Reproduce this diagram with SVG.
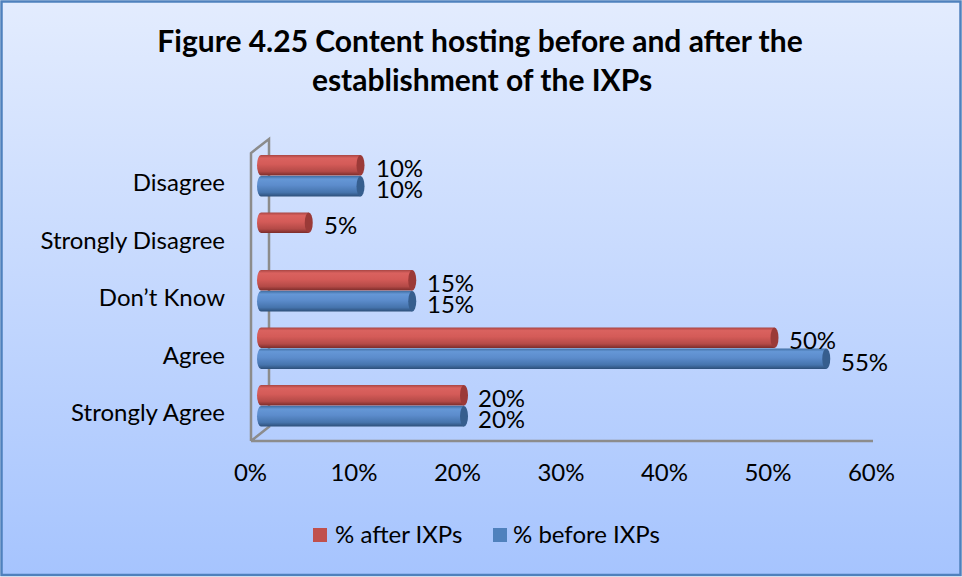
<svg xmlns="http://www.w3.org/2000/svg" width="962" height="577" viewBox="0 0 962 577">
<defs>
<linearGradient id="bg" x1="0" y1="0" x2="0" y2="1">
<stop offset="0" stop-color="#E3ECFE"/>
<stop offset="1" stop-color="#A6C4FE"/>
</linearGradient>
<linearGradient id="gr" x1="0" y1="0" x2="0" y2="1">
<stop offset="0" stop-color="#A94644"/>
<stop offset="0.15" stop-color="#DA625F"/>
<stop offset="0.45" stop-color="#D45B58"/>
<stop offset="0.8" stop-color="#B44A47"/>
<stop offset="1" stop-color="#7B2C2A"/>
</linearGradient>
<linearGradient id="gb" x1="0" y1="0" x2="0" y2="1">
<stop offset="0" stop-color="#416FA3"/>
<stop offset="0.15" stop-color="#6597D6"/>
<stop offset="0.45" stop-color="#5C8CCC"/>
<stop offset="0.8" stop-color="#4674AD"/>
<stop offset="1" stop-color="#2D4F79"/>
</linearGradient>
</defs>
<style>
.t{font-family:Lato,"Liberation Sans",sans-serif;font-size:24px;fill:#000}
.ttl{font-family:Lato,"Liberation Sans",sans-serif;font-size:30px;font-weight:bold;fill:#000}
.ax{stroke:#8C8C8C;stroke-width:2.5;fill:none}
.capr{fill:#9B3A38}
.capb{fill:#365E8E}
</style>
<rect x="1.5" y="1.5" width="959" height="573.5" fill="url(#bg)" stroke="#4F81BD" stroke-width="2.5"/>
<g id="title" text-anchor="middle">
<text class="ttl" x="480" y="52">Figure 4.25 Content hosting before and after the</text>
<text class="ttl" x="482" y="91">establishment of the IXPs</text>
</g>
<g id="axes">
<path class="ax" d="M251,441 V153 L269,139 V426 M251,441 L270,426 M251,441 H873"/>
</g>
<g id="category-labels" text-anchor="end">
<text class="t" x="225" y="191">Disagree</text>
<text class="t" x="225" y="248.5">Strongly Disagree</text>
<text class="t" x="225" y="306">Don’t Know</text>
<text class="t" x="225" y="363.5">Agree</text>
<text class="t" x="225" y="421">Strongly Agree</text>
</g>
<g id="tick-labels" text-anchor="middle">
<text class="t" x="250.5" y="481">0%</text>
<text class="t" x="354" y="481">10%</text>
<text class="t" x="457.5" y="481">20%</text>
<text class="t" x="561" y="481">30%</text>
<text class="t" x="664.5" y="481">40%</text>
<text class="t" x="768" y="481">50%</text>
<text class="t" x="871.5" y="481">60%</text>
</g>
<g id="bars">
<g id="disagree">
<path fill="url(#gr)" d="M261,155 H360.5 V175.5 H261 A4,10.25 0 0 1 261,155 Z"/><ellipse class="capr" cx="360.5" cy="165.25" rx="4" ry="10.25"/>
<path fill="url(#gb)" d="M261,176 H360.5 V196.5 H261 A4,10.25 0 0 1 261,176 Z"/><ellipse class="capb" cx="360.5" cy="186.25" rx="4" ry="10.25"/>
<text class="t" x="376" y="177">10%</text>
<text class="t" x="376" y="198">10%</text>
</g>
<g id="strongly-disagree">
<path fill="url(#gr)" d="M261,212.5 H308.75 V233 H261 A4,10.25 0 0 1 261,212.5 Z"/><ellipse class="capr" cx="308.75" cy="222.75" rx="4" ry="10.25"/>
<text class="t" x="324" y="234">5%</text>
</g>
<g id="dont-know">
<path fill="url(#gr)" d="M261,270 H412.25 V290.5 H261 A4,10.25 0 0 1 261,270 Z"/><ellipse class="capr" cx="412.25" cy="280.25" rx="4" ry="10.25"/>
<path fill="url(#gb)" d="M261,291 H412.25 V311.5 H261 A4,10.25 0 0 1 261,291 Z"/><ellipse class="capb" cx="412.25" cy="301.25" rx="4" ry="10.25"/>
<text class="t" x="427" y="292">15%</text>
<text class="t" x="427" y="313">15%</text>
</g>
<g id="agree">
<path fill="url(#gr)" d="M261,327.5 H774.5 V348 H261 A4,10.25 0 0 1 261,327.5 Z"/><ellipse class="capr" cx="774.5" cy="337.75" rx="4" ry="10.25"/>
<path fill="url(#gb)" d="M261,348.5 H826.25 V369 H261 A4,10.25 0 0 1 261,348.5 Z"/><ellipse class="capb" cx="826.25" cy="358.75" rx="4" ry="10.25"/>
<text class="t" x="789" y="348.5">50%</text>
<text class="t" x="841" y="370.5">55%</text>
</g>
<g id="strongly-agree">
<path fill="url(#gr)" d="M261,385 H464 V405.5 H261 A4,10.25 0 0 1 261,385 Z"/><ellipse class="capr" cx="464" cy="395.25" rx="4" ry="10.25"/>
<path fill="url(#gb)" d="M261,406 H464 V426.5 H261 A4,10.25 0 0 1 261,406 Z"/><ellipse class="capb" cx="464" cy="416.25" rx="4" ry="10.25"/>
<text class="t" x="478" y="407">20%</text>
<text class="t" x="478" y="428">20%</text>
</g>
</g>
<g id="legend">
<rect x="313" y="528" width="14" height="14" fill="#C0504D"/>
<text class="t" x="335" y="543">% after IXPs</text>
<rect x="493" y="528" width="14" height="14" fill="#4F81BD"/>
<text class="t" x="513" y="543">% before IXPs</text>
</g>
</svg>
